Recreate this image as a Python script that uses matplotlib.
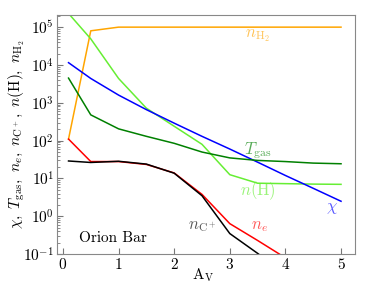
import numpy as np
import matplotlib
matplotlib.use("Agg")
import matplotlib.pyplot as plt
from matplotlib.ticker import FixedLocator, NullFormatter

plt.rcParams["font.family"] = "serif"
plt.rcParams["font.serif"] = ["cmr10", "DejaVu Serif"]
plt.rcParams["mathtext.fontset"] = "cm"
plt.rcParams["axes.formatter.use_mathtext"] = True

# visual extinction grid
av = [0.1, 0.5, 1.0, 1.5, 2.0, 2.5, 3.0, 3.5, 4.0, 4.5, 5.0]

chi   = [1.15e4, 4.4e3, 1.6e3, 660, 290, 130, 60, 27, 12, 5.5, 2.5]
t_gas = [4.5e3, 480, 205, 130, 85, 50, 35, 30, 28, 25.5, 24.5]
n_e   = [110, 28, 28, 23.5, 14, 3.8, 0.64, 0.23, 0.08, 0.03, 0.01]
n_cp  = [29, 26.5, 28.5, 24, 13.8, 3.5, 0.35, 0.105, 0.03, 0.01, 0.003]
n_h   = [2.3e5, 4.9e4, 4.4e3, 720, 240, 80, 12.6, 7.5, 7.3, 7.1, 7.0]
n_h2  = [110, 8e4, 1e5, 1e5, 1e5, 1e5, 1e5, 1e5, 1e5, 1e5, 1e5]

y_major = [1e-1, 1e0, 1e1, 1e2, 1e3, 1e4, 1e5]
y_labels = [r"$10^{-1}$", r"$10^{0}$", r"$10^{1}$", r"$10^{2}$",
            r"$10^{3}$", r"$10^{4}$", r"$10^{5}$"]
x_major = [0, 1, 2, 3, 4, 5]

C_CHI = "blue"
C_TGAS = "green"
C_NE = "red"
C_NCP = "black"
C_NH = "#66ee33"
C_NH2 = "orange"

fig = plt.figure(figsize=(3.74, 2.99), dpi=100)
ax = fig.add_axes([0.152, 0.150, 0.797, 0.800])

ax.plot(av, n_h2, color=C_NH2, lw=1.1)
ax.plot(av, n_h, color=C_NH, lw=1.1)
ax.plot(av, chi, color=C_CHI, lw=1.1)
ax.plot(av, t_gas, color=C_TGAS, lw=1.1)
ax.plot(av, n_e, color=C_NE, lw=1.1)
ax.plot(av, n_cp, color=C_NCP, lw=1.1)

ax.set_yscale("log")
ax.set_ylim(0.1, 2.1e5)
ax.set_xlim(-0.11, 5.25)
ax.set_xticks(x_major)
ax.set_yticks(y_major)
ax.set_yticklabels(y_labels)
minors = [m * d for d in y_major for m in range(2, 10) if m * d < 2.1e5]
ax.yaxis.set_minor_locator(FixedLocator(minors))
ax.yaxis.set_minor_formatter(NullFormatter())
ax.tick_params(which="both", direction="in", top=False, right=False,
               labelsize=11, color="#777777", pad=2)
ax.tick_params(which="major", length=4)
ax.tick_params(which="minor", length=2)
for s in ax.spines.values():
    s.set_color("#888888")

ax.set_xlabel(r"$\mathrm{A_V}$", fontsize=11)
ax.xaxis.set_label_coords(0.49, -0.05)
ax.set_ylabel(r"$\chi,\ T_{\rm gas},\ n_e,\ n_{\rm C^+},\ n({\rm H}),\ n_{\rm H_2}$",
              fontsize=11)
ax.yaxis.set_label_coords(-0.10, 0.5)

kw = dict(fontsize=12, ha="center", va="center", alpha=0.65)
ax.text(3.5, 6.1e4, r"$n_{\rm H_2}$", color=C_NH2, **kw)
ax.text(3.5, 55, r"$T_{\rm gas}$", color=C_TGAS, **kw)
ax.text(3.5, 4.8, r"$n({\rm H})$", color=C_NH, **kw)
ax.text(4.84, 1.6, r"$\chi$", color=C_CHI, **kw)
ax.text(3.53, 0.53, r"$n_e$", color=C_NE, **kw)
ax.text(2.5, 0.53, r"$n_{\rm C^+}$", color=C_NCP, **kw)
ax.text(0.9, 0.26, "Orion Bar", fontsize=11, ha="center", va="center")

fig.savefig("out.png", dpi=100)
